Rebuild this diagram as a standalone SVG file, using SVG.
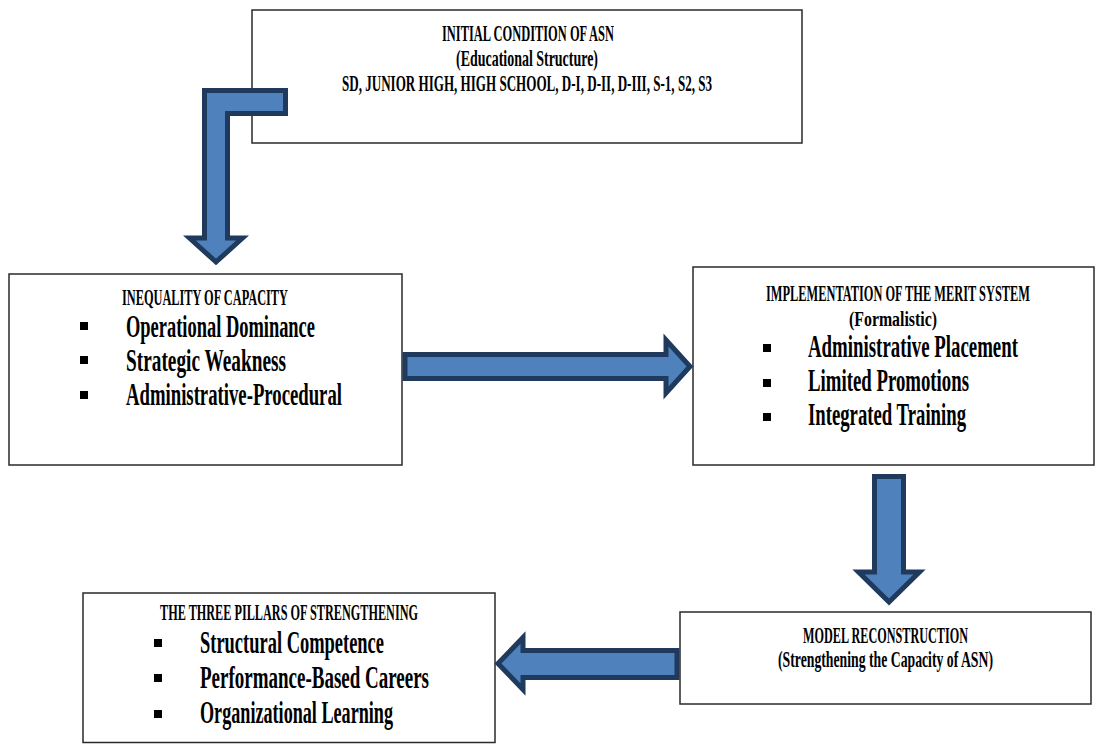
<svg xmlns="http://www.w3.org/2000/svg" width="1096" height="744" viewBox="0 0 1096 744">
<style>
.box{fill:#fff;stroke:#2a2a2a;stroke-width:1.5}
.arrow{fill:#4F81BD;stroke:#1F3A5C;stroke-width:5;stroke-linejoin:miter;stroke-miterlimit:10}
text{font-family:"Liberation Serif","Times New Roman",serif;font-weight:bold;fill:#000}
.h{font-size:23px}
.h2{font-size:24px}
.p{font-size:22px}
.b{font-size:31px}
.dot{fill:#000}
</style>
<rect width="1096" height="744" fill="#fff"/>
<g id="node-initial">
<rect class="box" x="252" y="10" width="550" height="133"/>
<text class="h" transform="translate(442 41) scale(0.5 1)" textLength="344" lengthAdjust="spacingAndGlyphs">INITIAL CONDITION OF ASN</text>
<text class="h" transform="translate(456 66) scale(0.5 1)" textLength="284" lengthAdjust="spacingAndGlyphs">(Educational Structure)</text>
<text class="h" transform="translate(342 91) scale(0.5 1)" textLength="740" lengthAdjust="spacingAndGlyphs">SD, JUNIOR HIGH, HIGH SCHOOL, D-I, D-II, D-III, S-1, S2, S3</text>
</g>
<g id="node-inequality">
<rect class="box" x="9" y="274" width="393" height="191"/>
<text class="h2" transform="translate(122 305) scale(0.5 1)" textLength="332" lengthAdjust="spacingAndGlyphs">INEQUALITY OF CAPACITY</text>
<rect class="dot" x="80" y="322" width="8" height="8"/>
<rect class="dot" x="80" y="356" width="8" height="8"/>
<rect class="dot" x="80" y="391" width="8" height="8"/>
<text class="b" transform="translate(126 337) scale(0.5 1)" textLength="378" lengthAdjust="spacingAndGlyphs">Operational Dominance</text>
<text class="b" transform="translate(126 371) scale(0.5 1)" textLength="320" lengthAdjust="spacingAndGlyphs">Strategic Weakness</text>
<text class="b" transform="translate(126 405) scale(0.5 1)" textLength="432" lengthAdjust="spacingAndGlyphs">Administrative-Procedural</text>
</g>
<g id="node-merit">
<rect class="box" x="693" y="267" width="401" height="198"/>
<text class="h" transform="translate(766 301) scale(0.5 1)" textLength="528" lengthAdjust="spacingAndGlyphs">IMPLEMENTATION OF THE MERIT SYSTEM</text>
<text class="p" transform="translate(849 326) scale(0.5 1)" textLength="176" lengthAdjust="spacingAndGlyphs">(Formalistic)</text>
<rect class="dot" x="763" y="344" width="8" height="8"/>
<rect class="dot" x="763" y="379" width="8" height="8"/>
<rect class="dot" x="763" y="413" width="8" height="8"/>
<text class="b" transform="translate(808 357) scale(0.5 1)" textLength="420" lengthAdjust="spacingAndGlyphs">Administrative Placement</text>
<text class="b" transform="translate(808 391) scale(0.5 1)" textLength="322" lengthAdjust="spacingAndGlyphs">Limited Promotions</text>
<text class="b" transform="translate(808 425) scale(0.5 1)" textLength="316" lengthAdjust="spacingAndGlyphs">Integrated Training</text>
</g>
<g id="node-pillars">
<rect class="box" x="83" y="593" width="412" height="149.5"/>
<text class="h2" transform="translate(160 620) scale(0.5 1)" textLength="516" lengthAdjust="spacingAndGlyphs">THE THREE PILLARS OF STRENGTHENING</text>
<rect class="dot" x="154" y="639" width="8" height="8"/>
<rect class="dot" x="154" y="674" width="8" height="8"/>
<rect class="dot" x="154" y="710" width="8" height="8"/>
<text class="b" transform="translate(200 653) scale(0.5 1)" textLength="368" lengthAdjust="spacingAndGlyphs">Structural Competence</text>
<text class="b" transform="translate(200 688) scale(0.5 1)" textLength="458" lengthAdjust="spacingAndGlyphs">Performance-Based Careers</text>
<text class="b" transform="translate(200 723) scale(0.5 1)" textLength="386" lengthAdjust="spacingAndGlyphs">Organizational Learning</text>
</g>
<g id="node-model">
<rect class="box" x="680" y="612" width="411" height="92"/>
<text class="h2" transform="translate(803 643) scale(0.5 1)" textLength="330" lengthAdjust="spacingAndGlyphs">MODEL RECONSTRUCTION</text>
<text class="h" transform="translate(778 667) scale(0.5 1)" textLength="430" lengthAdjust="spacingAndGlyphs">(Strengthening the Capacity of ASN)</text>
</g>
<g id="connectors">
<path class="arrow" d="M204.5,90.5 H285.5 V113.5 H227.5 V238 H242.5 L216,262 L189.5,238 H204.5 Z"/>
<path class="arrow" d="M405,354.5 H666 V340 L690,366.5 L666,393 V378.5 H405 Z"/>
<path class="arrow" d="M874.5,476.5 H903.5 V572 H919.5 L889,602 L858.5,572 H874.5 Z"/>
<path class="arrow" d="M677,650.5 V677.5 H523 V689.5 L498,663.5 L523,637.5 V650.5 Z"/>
</g>
</svg>
